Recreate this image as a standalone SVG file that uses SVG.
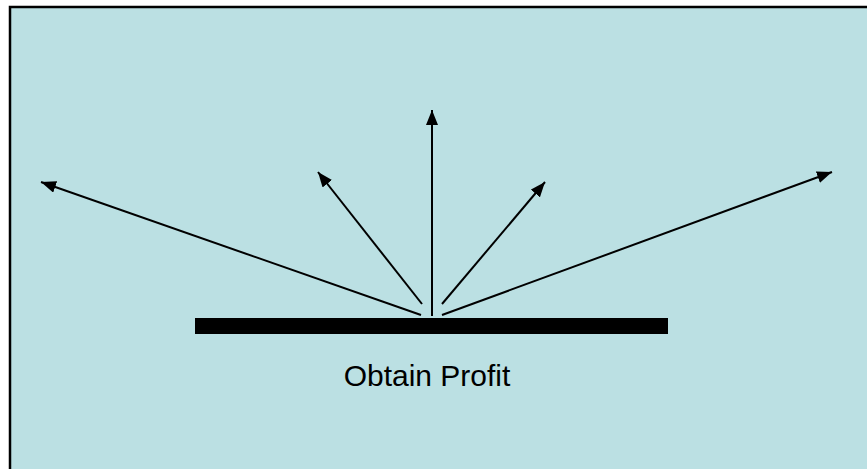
<svg xmlns="http://www.w3.org/2000/svg" width="867" height="469" viewBox="0 0 867 469">
<defs>
<marker id="ah" viewBox="0 0 15 12" refX="15" refY="6" markerWidth="15" markerHeight="12" markerUnits="userSpaceOnUse" orient="auto">
<path d="M0,0 L15,6 L0,12 Z" fill="#000"/>
</marker>
</defs>
<style>
.arr{stroke:#000;stroke-width:2;fill:none;marker-end:url(#ah)}
.lbl{font-family:"Liberation Sans",Arial,sans-serif;font-size:30px;fill:#000}
</style>
<rect width="867" height="469" fill="#fff"/>
<rect id="background" x="10" y="7" width="880" height="480" fill="#BBE0E3" stroke="#000" stroke-width="2.5"/>
<g id="bar">
<rect x="195" y="318" width="473" height="16" fill="#000"/>
</g>
<g id="connectors">
<line class="arr" x1="421" y1="315" x2="41" y2="182"/>
<line class="arr" x1="422" y1="304" x2="318" y2="172"/>
<line class="arr" x1="432" y1="316" x2="432" y2="110"/>
<line class="arr" x1="442" y1="304" x2="545" y2="182"/>
<line class="arr" x1="442" y1="315" x2="832" y2="172"/>
</g>
<g id="label">
<text class="lbl" x="427" y="386" text-anchor="middle">Obtain Profit</text>
</g>
</svg>
